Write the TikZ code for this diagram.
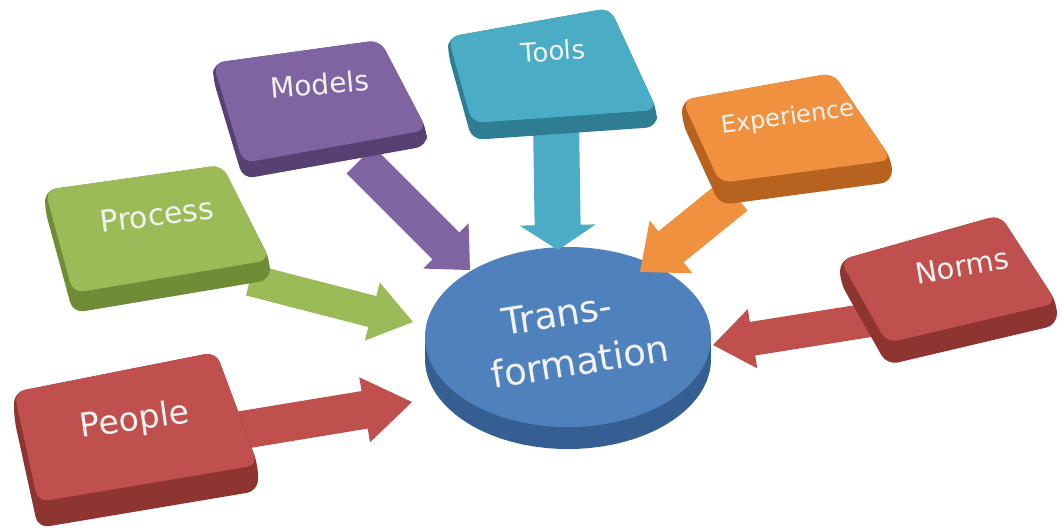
\documentclass[tikz,border=0pt]{standalone}
\usepackage{fontspec}
\setmainfont{DejaVu Sans}
\usetikzlibrary{calc}
\definecolor{redF}{HTML}{C0504D}\definecolor{redS}{HTML}{8E3532}
\definecolor{grnF}{HTML}{9BBB59}\definecolor{grnS}{HTML}{6F8C36}
\definecolor{purF}{HTML}{8064A2}\definecolor{purS}{HTML}{574072}
\definecolor{tealF}{HTML}{4BACC6}\definecolor{tealS}{HTML}{2E7D93}
\definecolor{orF}{HTML}{F0913F}\definecolor{orS}{HTML}{B8621F}
\definecolor{bluF}{HTML}{4F81BD}\definecolor{bluS}{HTML}{355F93}
\definecolor{txtW}{HTML}{F2F2F2}
\tikzset{
  lbltxt/.style={text=txtW, inner sep=0pt},
}
% fat arrow: #1 from, #2 tip, #3 colour, #4 shaft half, #5 head half, #6 head length
\newcommand\fatarrow[6]{%
  \path ($(#2)!#6!(#1)$) coordinate (fa-h);
  \fill[#3] ($(#1)!#4!90:(#2)$) -- ($(fa-h)!#4!90:(#2)$) -- ($(fa-h)!#5!90:(#2)$) -- (#2)
     -- ($(fa-h)!#5!-90:(#2)$) -- ($(fa-h)!#4!-90:(#2)$) -- ($(#1)!#4!-90:(#2)$) -- cycle;}
% slab: corners TL TR BR BL, thickness, face, side
\newcommand\slab[7]{%
  \fill[#7, rounded corners=11pt] (#1) -- (#2) -- (#3) -- ($(#3)+(0,#5)$) -- ($(#4)+(0,#5)$) -- ($(#1)+(0,#5)$) -- cycle;
  \fill[#6, rounded corners=11pt] (#1) -- (#2) -- (#3) -- (#4) -- cycle;}
% label: name, position, angle, size, text
\newcommand\boxlabel[5]{%
  \node[lbltxt, rotate=#3, font=\fontsize{#4}{#4}\selectfont] (#1) at (#2) {#5};}
\begin{document}
\begin{tikzpicture}[x=1pt,y=-1pt]
\fill[white] (0,0) rectangle (1061,531);
\useasboundingbox (0,0) rectangle (1061,531);

% centre disc
\coordinate (trans-c) at (568,337);
\fill[bluS] ($(trans-c)+(0,22)$) ellipse [x radius=143, y radius=90];
\fill[bluS] ($(trans-c)+(-143,0)$) rectangle ($(trans-c)+(143,22)$);
\fill[bluF] (trans-c) ellipse [x radius=143, y radius=90];

% arrow end points
\coordinate (people-o) at (230,432);  \coordinate (trans-people) at (412,402);
\coordinate (process-o) at (250,280); \coordinate (trans-process) at (413,322);
\coordinate (models-o) at (360,160);  \coordinate (trans-models) at (470,270);
\coordinate (tools-o) at (556,120);   \coordinate (trans-tools) at (558,250);
\coordinate (exp-o) at (735,195);     \coordinate (trans-exp) at (640,272);
\coordinate (norms-o) at (870,320);   \coordinate (trans-norms) at (713,345);

\fatarrow{people-o}{trans-people}{redF}{19pt}{33pt}{48pt}
\fatarrow{process-o}{trans-process}{grnF}{16pt}{30pt}{42pt}
\fatarrow{models-o}{trans-models}{purF}{19pt}{32pt}{34pt}
\fatarrow{tools-o}{trans-tools}{tealF}{23pt}{38pt}{25pt}
\fatarrow{exp-o}{trans-exp}{orF}{20pt}{34pt}{40pt}
\fatarrow{norms-o}{trans-norms}{redF}{17pt}{30pt}{40pt}

% boxes
\slab{14,392}{216,352}{258,465}{38,502}{26}{redF}{redS}
\slab{45,190}{222,165}{270,260}{73,293}{20}{grnF}{grnS}
\slab{213,63}{380,40}{427,130}{243,163}{16}{purF}{purS}
\slab{448,37}{610,8}{657,110}{472,123}{17}{tealF}{tealS}
\slab{682,100}{833,73}{892,160}{720,183}{22}{orF}{orS}
\slab{840,260}{1000,215}{1057,303}{887,343}{22}{redF}{redS}

% labels
\boxlabel{people}{135,421}{8}{33}{People}
\boxlabel{process}{157,215}{7}{30}{Process}
\boxlabel{models}{320,84}{5}{28}{Models}
\boxlabel{tools}{553,51}{4}{26}{Tools}
\boxlabel{exp}{788,118}{7.5}{24}{Experience}
\boxlabel{norms}{962,266}{9.5}{29}{Norms}
\boxlabel{trans1}{557,314}{9}{37}{Trans-}
\boxlabel{trans2}{580,361}{9}{37}{formation}
\end{tikzpicture}
\end{document}
